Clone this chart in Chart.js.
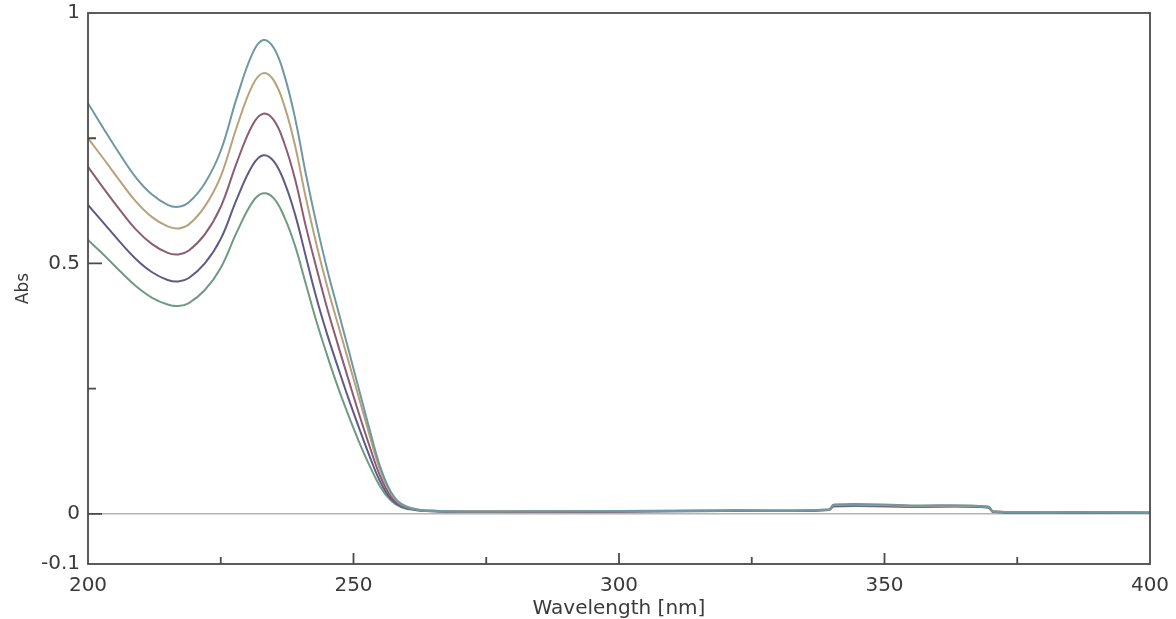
<!DOCTYPE html>
<html><head><meta charset="utf-8">
<script src="https://cdn.jsdelivr.net/npm/chart.js@4"></script>
<style>html,body{margin:0;padding:0;background:#fff;}</style>
</head><body>
<canvas id="c" width="1176" height="619"></canvas>
<script>
const wavelengths = [200,203,206,209,212,215,217,219,222,225,228,231,233,235,237,239,241,243,245,247,249,251,253,255,257,259,262,266,275,300,320,339.5,340.5,355,369.5,370.5,385,400];

const absSeries1 = [0.820,0.768,0.718,0.672,0.638,0.617,0.613,0.622,0.660,0.725,0.830,0.920,0.946,0.930,0.875,0.790,0.680,0.580,0.490,0.410,0.330,0.250,0.170,0.095,0.045,0.020,0.009,0.006,
  0.005,0.006,0.007,0.009,0.019,0.017,0.015,0.005,0.004,0.003];
const absSeries2 = [0.750,0.708,0.665,0.624,0.593,0.574,0.570,0.578,0.614,0.674,0.772,0.856,0.880,0.865,0.814,0.735,0.632,0.539,0.456,0.381,0.307,0.233,0.158,0.088,0.042,0.019,0.009,0.006,
  0.005,0.006,0.007,0.009,0.018,0.016,0.014,0.005,0.004,0.003];
const absSeries3 = [0.693,0.649,0.607,0.568,0.539,0.521,0.518,0.526,0.558,0.613,0.701,0.777,0.799,0.786,0.739,0.668,0.575,0.492,0.412,0.340,0.270,0.201,0.136,0.076,0.036,0.017,0.008,0.006,
  0.005,0.005,0.007,0.008,0.017,0.015,0.014,0.005,0.004,0.003];
const absSeries4 = [0.617,0.580,0.543,0.509,0.483,0.467,0.464,0.471,0.500,0.549,0.628,0.696,0.716,0.704,0.662,0.598,0.515,0.432,0.360,0.295,0.232,0.173,0.116,0.065,0.031,0.015,0.008,0.005,
  0.004,0.005,0.006,0.008,0.016,0.015,0.013,0.004,0.003,0.002];
const absSeries5 = [0.547,0.517,0.485,0.455,0.432,0.418,0.415,0.421,0.447,0.491,0.562,0.623,0.640,0.630,0.592,0.535,0.460,0.385,0.318,0.255,0.198,0.145,0.097,0.055,0.027,0.013,0.007,0.005,
  0.004,0.005,0.006,0.008,0.015,0.014,0.013,0.004,0.003,0.002];

const xTickLabels = [200,250,300,350,400];
const yTickLabels = [-0.1,0,0.5,1];
const xMajorTicks = [250,300,350];
const xMinorTicks = [225,275,325,375];
const yMajorTicks = [0,0.5];
const yMinorTicks = [0.25,0.75];

const seriesList = [absSeries1, absSeries2, absSeries3, absSeries4, absSeries5];
const colors = ['#6f98a3','#b8a27a','#8c5d72','#5d5b85','#6f9a84'];

const datasets = seriesList.map((s, i) => ({
  data: wavelengths.map((w, j) => ({x: w, y: s[j]})),
  borderColor: colors[i],
  borderWidth: 2,
  pointRadius: 0,
  fill: false,
  tension: 0.4
}));

const framePlugin = {
  id: 'frame',
  afterDraw(chart) {
    const {ctx, chartArea: a, scales} = chart;
    const xs = scales.x, ys = scales.y;
    ctx.save();
    ctx.strokeStyle = '#4a4a4a';
    ctx.lineWidth = 1.8;
    ctx.strokeRect(a.left, a.top, a.right - a.left, a.bottom - a.top);
    ctx.beginPath();
    xMajorTicks.forEach(v => { const p = xs.getPixelForValue(v); ctx.moveTo(p, a.bottom); ctx.lineTo(p, a.bottom - 11); });
    xMinorTicks.forEach(v => { const p = xs.getPixelForValue(v); ctx.moveTo(p, a.bottom); ctx.lineTo(p, a.bottom - 7); });
    yMajorTicks.forEach(v => { const p = ys.getPixelForValue(v); ctx.moveTo(a.left, p); ctx.lineTo(a.left + 14, p); });
    yMinorTicks.forEach(v => { const p = ys.getPixelForValue(v); ctx.moveTo(a.left, p); ctx.lineTo(a.left + 8, p); });
    ctx.stroke();
    ctx.restore();
  }
};

const fam = '"DejaVu Sans", sans-serif';
const tickFont = {family: fam, size: 20};

new Chart(document.getElementById('c'), {
  type: 'line',
  data: {datasets},
  options: {
    responsive: false,
    animation: false,
    layout: {padding: {top: 13, right: 26, left: 0, bottom: 0}},
    plugins: {legend: {display: false}, tooltip: {enabled: false}},
    scales: {
      x: {
        type: 'linear', min: 200, max: 400,
        afterBuildTicks: s => { s.ticks = xTickLabels.map(v => ({value: v})); },
        afterFit: s => { s.height = 55; s.paddingLeft = 0; s.paddingRight = 0; },
        grid: {display: true, drawOnChartArea: false, drawTicks: false},
        border: {display: false},
        ticks: {color: '#3a3a3a', font: tickFont, padding: 10, maxRotation: 0, autoSkip: false, callback: v => String(v)},
        title: {display: true, text: 'Wavelength [nm]', color: '#3a3a3a', font: {family: fam, size: 20}, padding: {top: 0, bottom: -2}}
      },
      y: {
        type: 'linear', min: -0.1, max: 1,
        afterBuildTicks: s => { s.ticks = yTickLabels.map(v => ({value: v})); },
        afterFit: s => { s.width = 88; s.paddingTop = 0; s.paddingBottom = 0; },
        grid: {
          drawOnChartArea: true, drawTicks: false,
          color: c => (c.tick && c.tick.value === 0) ? '#b4b4b4' : 'rgba(0,0,0,0)',
          lineWidth: 1.5
        },
        border: {display: false},
        ticks: {color: '#3a3a3a', font: tickFont, padding: 8, autoSkip: false, callback: v => String(v)},
        title: {display: true, text: 'Abs', color: '#3a3a3a', font: {family: fam, size: 17}, padding: {top: 13, bottom: 0}}
      }
    }
  },
  plugins: [framePlugin]
});
</script>
</body></html>
